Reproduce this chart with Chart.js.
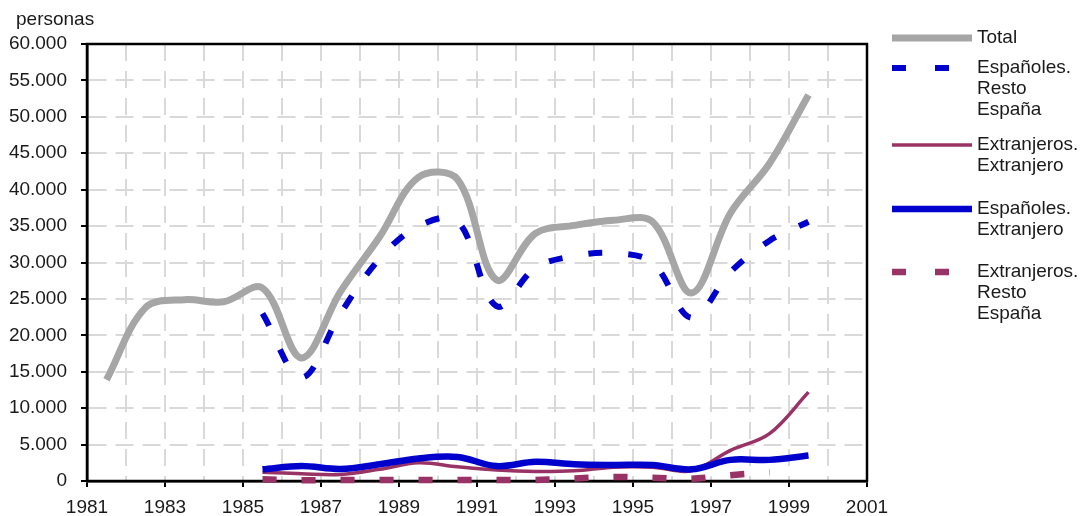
<!DOCTYPE html>
<html>
<head>
<meta charset="utf-8">
<script src="https://cdn.jsdelivr.net/npm/chart.js@4"></script>
<style>
  html, body { margin: 0; padding: 0; background: #fff; }
  #wrap { position: relative; width: 1083px; height: 516px; }
</style>
</head>
<body>
<div id="wrap"><canvas id="chart"></canvas></div>
<script>
// data points sit in the middle of each year
const years = [1981.5, 1982.5, 1983.5, 1984.5, 1985.5, 1986.5, 1987.5, 1988.5, 1989.5, 1990.5,
               1991.5, 1992.5, 1993.5, 1994.5, 1995.5, 1996.5, 1997.5, 1998.5, 1999.5];

const total = [13900, 23800, 24900, 24600, 26500, 16900, 26000, 33500, 41700, 41400,
               27600, 34000, 35100, 35800, 35600, 25800, 36800, 43600, 53000];
const espRestoEspana = [null, null, null, null, 23000, 14200, 23000, 30500, 35000, 35700,
                        24000, 29300, 30900, 31300, 30000, 22400, 28700, 33000, 35600];
const extExtranjero = [null, null, null, null, 1200, 1000, 900, 1600, 2500, 1950,
                       1500, 1300, 1400, 1900, 1900, 1400, 4200, 6500, 12200];
const espExtranjero = [null, null, null, null, 1600, 2050, 1650, 2300, 3100, 3300,
                       2050, 2650, 2300, 2200, 2200, 1600, 2900, 2900, 3500];
const extRestoEspana = [null, null, null, null, 250, 100, 150, 150, 150, 150,
                        150, 150, 350, 550, 450, 300, 800, 1200, null];

const seriesLabels = ['Total', 'Españoles.\nResto\nEspaña', 'Extranjeros.\nExtranjero',
                      'Españoles.\nExtranjero', 'Extranjeros.\nResto\nEspaña'];
const xTickLabels = ['1981', '1983', '1985', '1987', '1989', '1991', '1993', '1995', '1997', '1999', '2001'];
const yTitle = 'personas';

const FONT = "'Liberation Sans', Arial, sans-serif";
const TEXT = '#1a1a1a';

function toPoints(values) {
    return years.map((x, i) => ({ x: x, y: values[i] }));
}

function fmt(v) {
    return String(v).replace(/\B(?=(\d{3})+(?!\d))/g, '.');
}

// legend rows: y of the sample line / first text line
const legendRows = [38, 68, 145, 209, 272];

const framePlugin = {
    id: 'frame',
    beforeDatasetsDraw(chart) {
        const a = chart.chartArea;
        const ctx = chart.ctx;
        ctx.save();
        ctx.strokeStyle = '#000';
        ctx.lineWidth = 2.5;
        ctx.strokeRect(a.left, a.top, a.right - a.left, a.bottom - a.top);
        ctx.restore();
    },
    afterDraw(chart) {
        const ctx = chart.ctx;
        ctx.save();
        ctx.font = '19px ' + FONT;
        ctx.fillStyle = TEXT;
        ctx.textBaseline = 'middle';
        ctx.textAlign = 'left';
        ctx.fillText(yTitle, 16, 20);

        chart.data.datasets.forEach((ds, i) => {
            const y = legendRows[i];
            ctx.save();
            ctx.strokeStyle = ds.borderColor;
            ctx.lineWidth = ds.borderWidth;
            ctx.lineCap = 'butt';
            ctx.setLineDash(ds.borderDash ? [14, 29] : []);
            ctx.beginPath();
            ctx.moveTo(892, y);
            ctx.lineTo(972, y);
            ctx.stroke();
            ctx.restore();
            seriesLabels[i].split('\n').forEach((line, k) => {
                ctx.fillText(line, 977, y + k * 21);
            });
        });
        ctx.restore();
    }
};

const gridColor = '#d9d9d9';

const ctx = document.getElementById('chart');
new Chart(ctx, {
    type: 'line',
    data: {
        datasets: [
            { label: seriesLabels[0], data: toPoints(total), borderColor: '#a6a6a6', borderWidth: 7, order: 0, clip: false },
            { label: seriesLabels[1], data: toPoints(espRestoEspana), borderColor: '#0000cc', borderWidth: 6, borderDash: [14, 26], order: 1, clip: false },
            { label: seriesLabels[2], data: toPoints(extExtranjero), borderColor: '#993366', borderWidth: 3.5, order: 3, clip: false },
            { label: seriesLabels[3], data: toPoints(espExtranjero), borderColor: '#0000cc', borderWidth: 6.5, order: 2, clip: false },
            { label: seriesLabels[4], data: toPoints(extRestoEspana), borderColor: '#993366', borderWidth: 6.5, borderDash: [14, 25], order: 4, clip: false }
        ]
    },
    options: {
        responsive: true,
        maintainAspectRatio: false,
        animation: false,
        elements: {
            line: { tension: 0.35, borderCapStyle: 'butt', fill: false },
            point: { radius: 0, hoverRadius: 0 }
        },
        layout: {
            padding: { left: 0, right: 216, top: 44, bottom: 0 }
        },
        plugins: {
            legend: { display: false },
            tooltip: { enabled: false }
        },
        scales: {
            x: {
                type: 'linear',
                min: 1981,
                max: 2001,
                afterFit: scale => { scale.height = 35; },
                border: { display: true, color: '#000', width: 2.5, dash: [17, 10] },
                grid: {
                    color: gridColor,
                    lineWidth: 2,
                    tickLength: 6,
                    tickWidth: 2,
                    tickBorderDash: [],
                    tickColor: c => (c.tick && xTickLabels.includes(String(c.tick.value))) ? '#000' : 'rgba(0,0,0,0)'
                },
                ticks: {
                    stepSize: 1,
                    autoSkip: false,
                    maxRotation: 0,
                    padding: 9,
                    color: TEXT,
                    font: { size: 19, family: FONT },
                    callback: v => xTickLabels.includes(String(v)) ? String(v) : ''
                }
            },
            y: {
                min: 0,
                max: 60000,
                afterFit: scale => { scale.width = 87; },
                border: { display: true, color: '#000', width: 2.5, dash: [18, 9] },
                grid: {
                    color: gridColor,
                    lineWidth: 2,
                    tickLength: 6,
                    tickWidth: 2,
                    tickBorderDash: [],
                    tickColor: '#000'
                },
                ticks: {
                    stepSize: 5000,
                    padding: 14,
                    color: TEXT,
                    font: { size: 19, family: FONT },
                    callback: v => fmt(v)
                }
            }
        }
    },
    plugins: [framePlugin]
});
</script>
</body>
</html>
